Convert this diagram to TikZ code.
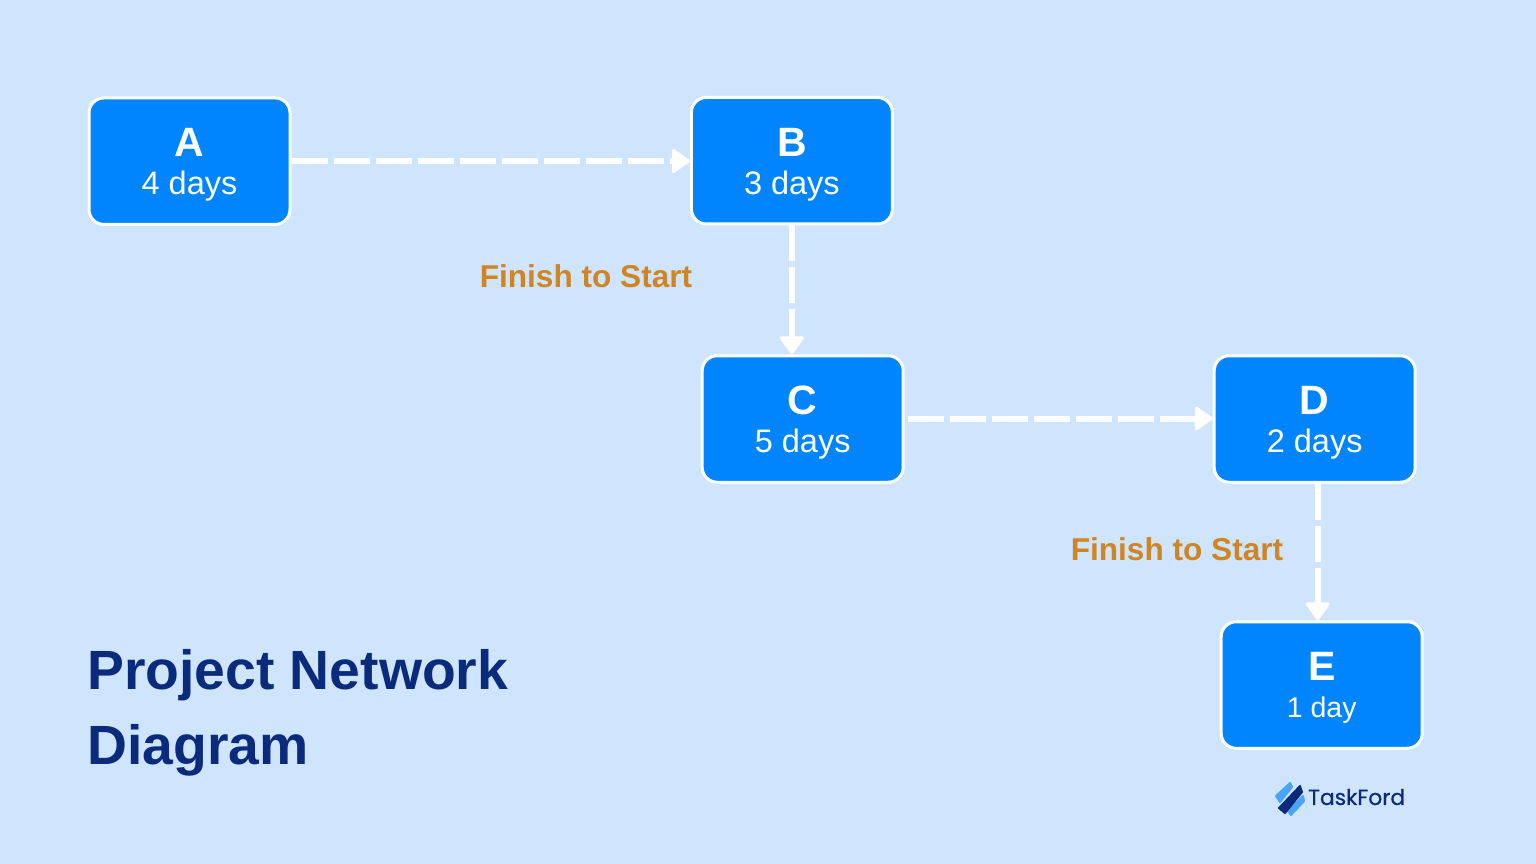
\documentclass[tikz,border=0pt]{standalone}
\usepackage{fontspec}
\setmainfont{Liberation Sans}
\newfontfamily\logofont[FakeBold=0.6]{Poppins}
\usetikzlibrary{arrows.meta,calc}
\definecolor{bgc}{HTML}{CFE5FD}
\definecolor{boxc}{HTML}{0085FF}
\definecolor{navyc}{HTML}{0A2A7C}
\definecolor{orangec}{HTML}{D08524}
\definecolor{logolight}{HTML}{4BA3F5}
\definecolor{logodark}{HTML}{0A2A7C}
\tikzset{
  x=1pt,y=-1pt,
  taskbox/.style={draw=white,line width=3pt,fill=boxc,rounded corners=15pt,minimum width=201pt,minimum height=126.5pt,inner sep=0pt,outer sep=0pt,text=white,align=center,font=\fontsize{32.5}{38}\selectfont},
  link/.style={draw=white,line width=6pt,dash pattern=on 36pt off 6pt,-{Triangle[length=19pt,width=26pt,round,line width=3pt]}},
  lagtext/.style={text=orangec,font=\bfseries\fontsize{31.6}{36}\selectfont,inner sep=0pt},
  logobar/.style={line width=2pt,line join=round},
}
\newcommand{\boxtext}[2]{\rule{0pt}{29.5pt}{\bfseries\fontsize{41}{41}\selectfont #1}\\\smash{#2}}
\begin{document}
\begin{tikzpicture}
\path[use as bounding box,fill=bgc] (0,0) rectangle (1536,864);
\node[taskbox] (A) at (189.5,161.2) {\boxtext{A}{4 days}};
\node[taskbox] (B) at (791.9,160.7) {\boxtext{B}{3 days}};
\node[taskbox] (C) at (802.7,419) {\boxtext{C}{5 days}};
\node[taskbox] (D) at (1314.7,419) {\boxtext{D}{2 days}};
\node[taskbox] (E) at (1321.7,685) {\rule{0pt}{28pt}{\bfseries\fontsize{41}{41}\selectfont E}\\[-1pt]\smash{\fontsize{28.5}{38}\selectfont 1 day}};
\draw[link] ($(A.east)+(1.5,-0.2)$) -- ($(B.west)+(-1.5,0.3)$);
\draw[link] ($(B.south)+(0,1.5)$) -- ($(B.south |- C.north)+(0,-1.5)$);
\draw[link] ($(C.east)+(5,-0.5)$) -- ($(D.west)+(-1.5,-0.5)$);
\draw[link] ($(D.south)+(3,1.5)$) -- ($(D.south |- E.north)+(3,-1.5)$);
\node[lagtext,anchor=center] (L1) at (586,276) {Finish to Start};
\node[lagtext,anchor=center] (L2) at (1177,549) {Finish to Start};
\node[text=navyc,font=\bfseries\fontsize{55.3}{75}\selectfont,align=left,anchor=north west,inner sep=0pt] (T) at (87,649) {Project Network\\Diagram};
\filldraw[logobar,draw=logolight,fill=logolight] (1290,783) -- (1292,787) -- (1280,802) -- (1276,796) -- cycle;
\filldraw[logobar,draw=logolight,fill=logolight] (1303,796) -- (1304,801) -- (1291,815) -- (1288,811) -- cycle;
\filldraw[logobar,draw=logodark,fill=logodark] (1300,786) -- (1302,792) -- (1285,813) -- (1279,808) -- cycle;
\node[text=navyc,font=\logofont\fontsize{21.8}{24}\selectfont,anchor=west,inner sep=0pt] (F) at (1308,797) {TaskFord};
\end{tikzpicture}
\end{document}
